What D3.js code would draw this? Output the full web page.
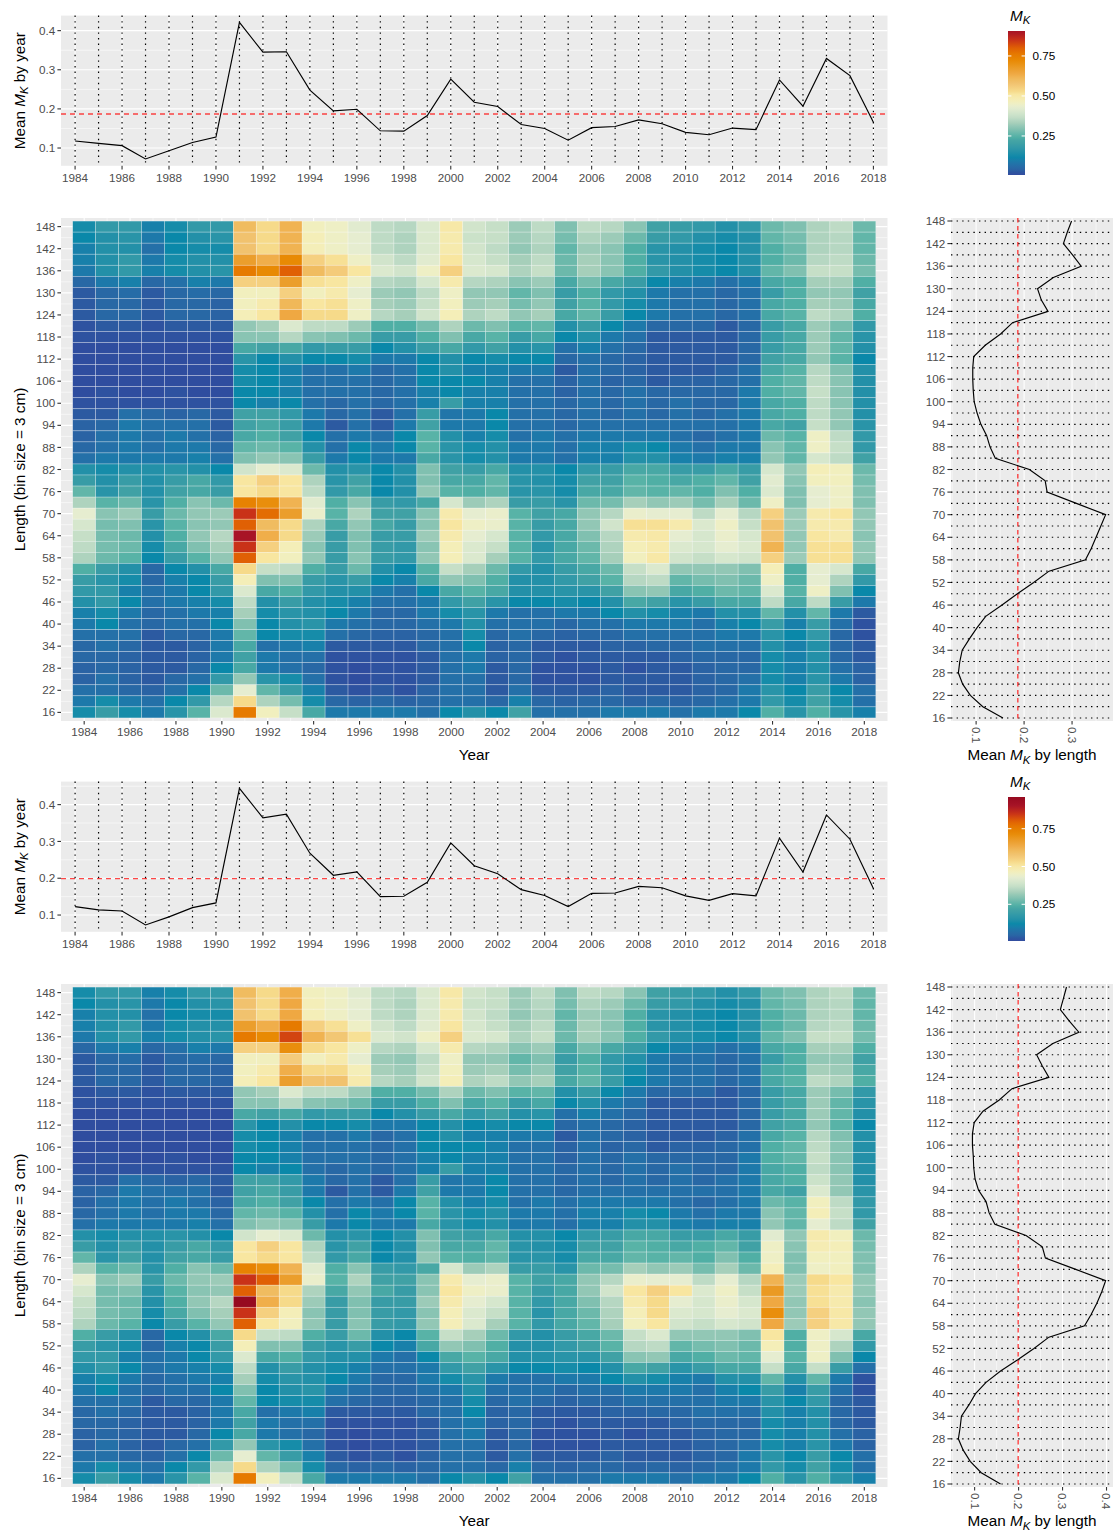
<!DOCTYPE html>
<html>
<head>
<meta charset="utf-8">
<script src="https://cdn.jsdelivr.net/npm/d3@7"></script>
<style>
  body { margin: 0; background: #fff; }
  svg text { font-family: "Liberation Sans", Arial, Helvetica, sans-serif; }
</style>
</head>
<body>
<svg id="chart" width="1113" height="1532"></svg>
<script>
// ---- data ----
const years = [1984,1985,1986,1987,1988,1989,1990,1991,1992,1993,1994,1995,1996,1997,1998,1999,2000,
  2001,2002,2003,2004,2005,2006,2007,2008,2009,2010,2011,2012,2013,2014,2015,2016,2017,2018];
const yearTicks = [1984,1986,1988,1990,1992,1994,1996,1998,2000,2002,2004,2006,2008,2010,2012,2014,2016,2018];
// length bins (cm), top row first
const lengths = [148,145,142,139,136,133,130,127,124,121,118,115,112,109,106,103,100,97,94,91,88,85,82,
  79,76,73,70,67,64,61,58,55,52,49,46,43,40,37,34,31,28,25,22,19,16];
const lengthTicks = [148,142,136,130,124,118,112,106,100,94,88,82,76,70,64,58,52,46,40,34,28,22,16];
const legendTicks = [0.25, 0.50, 0.75];

// upper figure
const yearMean1 = [0.118,0.112,0.106,0.072,0.093,0.114,0.128,0.421,0.345,0.346,0.248,0.195,0.199,0.144,0.143,0.183,0.276,
  0.217,0.206,0.160,0.150,0.120,0.152,0.155,0.172,0.162,0.140,0.134,0.151,0.147,0.274,0.207,0.329,0.285,0.166];
const lengthMean1 = [0.299,0.290,0.282,0.301,0.319,0.261,0.228,0.236,0.250,0.176,0.151,0.119,0.095,0.093,0.093,0.094,0.096,
  0.102,0.110,0.122,0.129,0.140,0.211,0.244,0.248,0.309,0.370,0.360,0.350,0.340,0.328,0.252,0.220,0.186,0.154,0.120,0.102,
  0.086,0.071,0.066,0.063,0.072,0.088,0.114,0.156];
const overallMean1 = 0.187;
const legendRange1 = [0.006, 0.906];
// M_K x 100, one row per length bin (148 -> 16), one column per year
const heat1 = [
  [13,18,18,10,13,18,18,60,53,62,46,45,42,36,35,41,50,39,37,32,36,29,36,35,30,21,19,18,15,18,27,29,34,36,27],
  [12,15,16,9,12,15,16,58,53,62,47,45,43,36,34,41,49,38,37,32,35,28,34,32,27,19,18,15,13,15,26,28,34,35,26],
  [10,15,15,7,12,13,13,58,53,62,47,45,43,36,34,41,49,39,36,31,34,26,32,30,24,16,15,13,12,15,24,27,34,35,26],
  [10,15,18,9,13,15,15,67,63,72,55,52,45,39,36,42,51,40,37,33,36,27,33,30,24,16,15,13,12,15,24,27,35,36,27],
  [9,15,18,10,13,15,16,76,72,80,60,56,51,41,39,45,55,41,40,34,37,27,33,30,24,18,15,13,12,15,26,29,37,37,28],
  [5,9,10,5,7,10,9,55,55,67,52,51,45,35,34,40,49,35,34,30,32,23,28,23,19,12,10,9,7,9,23,24,33,33,24],
  [3,5,6,3,5,6,5,46,46,55,46,49,43,32,31,36,45,31,31,26,29,19,24,18,15,9,7,7,5,7,19,24,31,31,21],
  [3,5,5,3,5,5,4,46,49,61,51,52,45,33,32,37,46,32,33,28,31,21,25,18,13,9,7,7,5,7,23,24,33,32,23],
  [3,5,5,3,5,5,4,47,51,64,53,53,45,35,33,39,47,34,36,31,33,23,26,19,12,9,7,7,5,7,23,25,36,34,24],
  [2,3,3,2,3,3,3,31,33,41,36,36,32,24,24,28,34,27,29,25,26,15,19,12,9,5,5,5,3,5,19,23,32,28,18],
  [2,2,2,2,2,2,2,30,30,35,30,29,27,19,19,24,29,23,25,19,23,12,15,9,7,3,3,3,3,5,19,23,32,26,16],
  [1,1,1,1,1,1,1,23,21,23,18,19,19,12,15,19,23,18,21,15,16,7,10,7,5,3,3,3,3,5,19,23,32,26,15],
  [1,1,1,1,1,1,1,16,12,15,12,12,13,9,9,12,15,12,13,12,12,5,7,5,4,3,3,3,3,5,21,23,31,25,12],
  [1,1,1,1,1,1,1,13,12,10,7,7,9,5,7,12,15,10,10,9,9,3,7,5,4,3,3,3,4,7,23,25,35,29,15],
  [1,1,1,1,1,1,1,13,12,10,7,7,7,5,7,12,12,12,10,7,7,4,7,4,5,3,4,4,5,7,24,26,36,30,15],
  [1,2,1,1,2,1,1,12,12,10,7,7,7,5,7,10,12,10,10,7,7,4,7,5,7,5,5,5,5,9,24,26,37,30,15],
  [2,2,2,2,2,2,2,12,10,12,7,5,7,5,7,10,19,10,10,7,7,5,7,5,7,5,7,5,5,9,23,24,36,30,15],
  [3,3,7,5,4,5,3,21,21,18,9,5,7,3,7,19,8,9,12,7,7,5,7,5,7,5,7,5,7,9,23,24,36,31,15],
  [4,5,9,7,7,7,3,21,23,19,9,3,7,3,9,21,9,9,12,7,7,5,7,7,7,7,7,7,7,9,23,21,37,31,16],
  [4,7,9,7,9,7,4,23,24,21,12,7,9,7,12,25,15,10,13,7,9,7,9,9,9,9,7,5,7,9,27,25,45,36,18],
  [5,7,9,7,9,9,5,26,27,25,15,7,12,9,12,25,16,13,15,9,9,7,10,10,13,12,9,7,9,9,30,26,45,37,18],
  [7,9,9,9,9,10,7,29,31,30,19,9,12,9,9,23,16,13,15,9,9,7,10,10,15,15,10,9,10,10,31,26,40,36,21],
  [15,13,15,15,16,15,12,39,43,41,27,15,16,12,15,29,21,19,23,15,15,12,18,19,23,23,19,19,23,19,40,31,47,46,27],
  [19,15,19,15,19,23,18,51,55,51,34,16,21,12,15,29,23,23,26,16,15,13,21,21,25,24,23,24,26,21,42,30,46,46,28],
  [26,16,21,15,21,23,19,51,53,51,36,18,23,12,15,31,25,24,26,16,16,13,23,23,26,25,26,24,29,24,41,29,43,45,29],
  [34,25,27,16,24,30,27,74,71,62,42,24,30,19,18,23,40,32,34,19,19,16,27,28,33,31,32,28,33,27,45,29,43,45,29],
  [43,30,32,19,27,31,32,85,78,67,44,25,34,21,21,30,49,43,44,25,21,23,31,35,44,43,43,36,43,35,55,32,49,51,31],
  [40,28,29,16,25,30,31,80,60,53,34,23,31,23,19,30,51,45,44,25,19,23,31,39,52,52,49,41,45,37,58,32,49,49,31],
  [37,28,27,15,24,31,35,90,63,53,32,19,29,19,19,32,49,43,40,25,18,23,29,35,49,50,43,40,44,40,58,31,51,49,30],
  [36,28,27,13,23,29,33,85,55,47,30,19,29,19,18,30,47,41,37,25,16,23,27,34,47,49,41,40,43,41,62,31,52,52,31],
  [34,27,25,12,19,25,31,80,51,46,31,19,30,19,18,31,47,41,33,25,18,23,26,33,46,50,39,37,40,39,55,32,52,52,31],
  [24,19,15,5,12,15,23,53,37,36,24,19,27,15,12,25,37,33,27,18,15,19,23,27,37,41,31,31,31,29,47,24,43,40,23],
  [19,16,13,5,10,12,19,47,29,29,19,16,19,12,10,23,31,29,24,15,15,18,21,25,35,36,26,28,29,27,45,24,43,34,18],
  [18,18,10,7,9,12,18,41,23,24,18,15,15,9,7,12,23,25,23,15,15,16,16,21,30,31,23,24,27,26,41,25,45,29,12],
  [15,18,12,7,9,10,13,36,15,19,15,13,10,7,7,9,18,21,16,12,12,13,12,15,23,21,16,19,23,23,36,23,36,19,9],
  [10,13,9,5,7,9,10,33,13,16,15,12,9,5,5,9,13,16,9,7,7,9,9,12,15,13,10,9,15,15,26,15,26,9,3],
  [9,12,7,5,7,7,12,29,12,15,16,9,7,5,5,7,9,15,7,7,7,5,7,7,9,9,9,7,10,12,19,10,19,7,2],
  [7,7,7,3,5,5,9,26,12,13,13,7,5,4,4,5,7,13,5,7,5,4,5,5,7,7,7,7,9,9,16,12,18,5,2],
  [5,7,5,3,3,4,9,23,7,9,10,3,3,3,3,5,7,12,4,5,3,3,3,4,4,5,5,7,7,7,15,10,15,5,3],
  [5,5,4,3,3,4,9,21,9,7,7,2,2,2,2,3,7,9,4,5,3,2,3,3,3,3,4,5,5,5,13,10,15,5,3],
  [4,5,4,3,3,5,12,23,9,7,5,2,1,2,2,3,7,9,3,5,2,2,2,3,2,3,3,4,5,5,13,10,15,7,4],
  [4,7,4,3,5,7,18,31,16,13,7,2,1,2,2,3,7,7,3,5,2,2,2,3,3,3,3,4,5,7,13,10,16,9,4],
  [7,7,5,4,7,12,27,43,26,19,10,3,2,3,2,4,7,7,3,7,3,3,3,4,3,3,3,4,5,9,16,12,19,12,7],
  [9,13,9,7,12,18,35,53,34,28,13,5,4,5,4,5,7,7,5,10,5,4,5,5,4,5,4,5,7,9,18,13,21,13,7],
  [13,19,13,9,16,25,41,76,46,37,23,9,9,9,9,7,12,15,12,21,7,7,7,9,9,9,7,9,9,12,24,16,24,16,10]
];

// lower figure
const yearMean2 = [0.123,0.114,0.111,0.073,0.095,0.120,0.133,0.444,0.364,0.374,0.268,0.208,0.217,0.150,0.151,0.189,0.296,
  0.234,0.212,0.169,0.153,0.123,0.159,0.160,0.178,0.174,0.152,0.140,0.158,0.152,0.309,0.217,0.372,0.306,0.172];
const lengthMean2 = [0.309,0.302,0.295,0.315,0.337,0.278,0.241,0.254,0.269,0.185,0.156,0.119,0.099,0.095,0.095,0.097,0.098,
  0.101,0.109,0.126,0.133,0.146,0.217,0.254,0.261,0.330,0.398,0.389,0.378,0.365,0.350,0.269,0.235,0.198,0.159,0.126,0.102,
  0.087,0.070,0.067,0.063,0.074,0.090,0.115,0.159];
const overallMean2 = 0.199;
const legendRange2 = [0.007, 0.960];
const heat2 = [
  [13,18,18,10,13,18,18,60,53,63,46,45,42,36,35,41,50,39,37,32,36,29,36,35,30,21,19,18,15,18,27,29,34,36,27],
  [12,15,16,9,12,15,16,58,53,64,47,45,43,36,34,41,49,38,37,32,35,28,34,32,27,19,18,15,13,15,26,28,34,35,26],
  [10,15,15,7,12,13,13,58,53,64,47,45,43,36,34,41,49,39,36,31,34,26,32,30,24,16,15,13,12,15,24,27,34,35,26],
  [10,15,18,9,13,15,15,67,63,76,55,52,45,39,36,42,51,40,37,33,36,27,33,30,24,16,15,13,12,15,24,27,35,36,27],
  [9,15,18,10,13,15,16,76,72,83,62,57,52,41,39,45,55,41,40,34,37,27,33,30,24,18,15,13,12,15,26,29,37,37,28],
  [5,9,10,5,7,10,9,55,55,71,53,51,45,35,34,40,49,35,34,30,32,23,28,23,19,12,10,9,7,9,23,24,33,33,24],
  [3,5,6,3,5,6,5,46,46,56,46,49,43,32,31,36,45,31,31,26,29,19,24,18,15,9,7,7,5,7,19,24,31,31,21],
  [3,5,5,3,5,5,4,46,49,63,53,53,47,33,32,37,46,32,33,28,31,21,25,18,13,9,7,7,5,7,23,24,33,32,23],
  [3,5,5,3,5,5,4,47,51,67,58,58,49,35,33,39,47,34,36,31,33,23,26,19,12,9,7,7,5,7,23,25,36,34,24],
  [2,3,3,2,3,3,3,31,33,41,36,36,32,24,24,28,34,27,29,25,26,15,19,12,9,5,5,5,3,5,19,23,32,28,18],
  [2,2,2,2,2,2,2,30,30,35,30,29,27,19,19,24,29,23,25,19,23,12,15,9,7,3,3,3,3,5,19,23,32,26,16],
  [1,1,1,1,1,1,1,23,21,23,18,19,19,12,15,19,23,18,21,15,16,7,10,7,5,3,3,3,3,5,19,23,32,26,15],
  [1,1,1,1,1,1,1,16,12,15,12,12,13,9,9,12,15,12,13,12,12,5,7,5,4,3,3,3,3,5,21,23,31,25,12],
  [1,1,1,1,1,1,1,13,12,10,7,7,9,5,7,12,15,10,10,9,9,3,7,5,4,3,3,3,4,7,23,25,35,29,15],
  [1,1,1,1,1,1,1,13,12,10,7,7,7,5,7,12,12,12,10,7,7,4,7,4,5,3,4,4,5,7,24,26,36,30,15],
  [1,2,1,1,2,1,1,12,12,10,7,7,7,5,7,10,12,10,10,7,7,4,7,5,7,5,5,5,5,9,24,26,37,30,15],
  [2,2,2,2,2,2,2,12,10,12,7,5,7,5,7,10,19,10,10,7,7,5,7,5,7,5,7,5,5,9,23,24,36,30,15],
  [3,3,7,5,4,5,3,21,21,18,9,5,7,3,7,19,8,9,12,7,7,5,7,5,7,5,7,5,7,9,23,24,38,31,15],
  [4,5,9,7,7,7,3,21,23,19,9,3,7,3,9,21,9,9,12,7,7,5,7,7,7,7,7,7,7,9,23,21,41,31,16],
  [4,7,9,7,9,7,4,23,24,21,12,7,9,7,12,25,15,10,13,7,9,7,9,9,9,9,7,5,7,9,27,25,46,36,18],
  [5,7,9,7,9,9,5,26,27,25,15,7,12,9,12,25,16,13,15,9,9,7,10,10,13,12,9,7,9,9,30,26,47,37,18],
  [7,9,9,9,9,10,7,29,31,30,19,9,12,9,9,23,16,13,15,9,9,7,10,10,15,15,10,9,10,10,31,26,43,36,21],
  [15,13,15,15,16,15,12,39,43,41,27,15,16,12,15,29,21,19,23,15,15,12,18,19,23,23,19,19,23,19,42,31,49,46,27],
  [19,15,19,15,19,23,18,51,55,51,34,16,21,12,15,29,23,23,26,16,15,13,21,21,25,24,23,24,26,21,45,30,48,47,28],
  [26,16,21,15,21,23,19,51,53,51,36,18,23,12,15,31,25,24,26,16,16,13,23,23,26,25,26,24,29,24,45,29,46,46,29],
  [34,25,27,16,24,30,27,74,71,62,42,24,30,19,18,23,40,32,34,19,19,16,27,28,33,31,32,28,33,27,47,29,45,46,29],
  [43,30,32,19,27,31,32,85,80,67,44,25,34,21,21,30,49,43,44,25,21,23,31,35,44,43,43,36,43,35,62,32,53,51,31],
  [40,28,29,16,25,30,31,80,60,53,34,23,31,23,19,30,51,45,44,25,19,23,31,39,51,55,51,41,45,37,68,32,52,49,31],
  [37,28,27,15,24,31,35,96,63,53,32,19,29,19,19,32,49,43,40,25,18,23,29,35,49,53,43,40,44,40,64,31,52,49,30],
  [36,28,27,13,23,29,33,85,55,47,30,19,29,19,18,30,47,41,37,25,16,23,27,34,47,53,41,40,43,41,71,31,55,50,31],
  [34,27,25,12,19,25,31,80,51,46,31,19,30,19,18,31,47,41,33,25,18,23,26,33,46,51,39,37,40,39,64,32,55,50,31],
  [24,19,15,5,12,15,23,53,37,36,24,19,27,15,12,25,37,33,27,18,15,19,23,27,37,41,31,31,31,29,51,24,45,40,23],
  [19,16,13,5,10,12,19,47,29,29,19,16,19,12,10,23,31,29,24,15,15,18,21,25,35,36,26,28,29,27,47,24,45,34,18],
  [18,18,10,7,9,12,18,41,23,24,18,15,15,9,7,12,23,25,23,15,15,16,16,21,30,31,23,24,27,26,43,25,45,29,12],
  [15,18,12,7,9,10,13,36,15,19,15,13,10,7,7,9,18,21,16,12,12,13,12,15,23,21,16,19,23,23,37,23,37,19,7],
  [10,13,9,5,7,9,10,33,13,16,15,12,9,5,5,9,13,16,9,7,7,9,9,12,15,13,10,9,15,15,26,15,26,9,2],
  [9,12,7,5,7,7,12,29,12,15,16,9,7,5,5,7,9,15,7,7,7,5,7,7,9,9,9,7,10,12,19,10,19,7,2],
  [7,7,7,3,5,5,9,26,12,13,13,7,5,4,4,5,7,13,5,7,5,4,5,5,7,7,7,7,9,9,16,12,18,5,3],
  [5,7,5,3,3,4,9,23,7,9,10,3,3,3,3,5,7,12,4,5,3,3,3,4,4,5,5,7,7,7,15,10,15,5,3],
  [5,5,4,3,3,4,9,21,9,7,7,2,2,2,2,3,7,9,4,5,3,2,3,3,3,3,4,5,5,5,13,10,15,5,3],
  [4,5,4,3,3,5,12,23,9,7,5,2,1,2,2,3,7,9,3,5,2,2,2,3,2,3,3,4,5,5,13,10,15,7,4],
  [4,7,4,3,5,7,18,31,16,13,7,2,1,2,2,3,7,7,3,5,2,2,2,3,3,3,3,4,5,7,13,10,16,9,4],
  [7,7,5,4,7,12,27,43,26,19,10,3,2,3,2,4,7,7,3,7,3,3,3,4,3,3,3,4,5,9,16,12,19,12,7],
  [9,13,9,7,12,18,35,53,34,28,13,5,4,5,4,5,7,7,5,10,5,4,5,5,4,5,4,5,7,9,18,13,21,13,7],
  [13,19,13,9,16,25,41,76,46,37,23,9,9,9,9,7,12,15,12,21,7,7,7,9,9,9,7,9,9,12,24,16,24,16,10]
];

// ---- colour scale (value -> colour) ----
const stopVals = [0,0.01,0.02,0.03,0.04,0.05,0.07,0.09,0.10,0.12,0.13,0.15,0.16,0.18,0.19,0.21,0.23,0.24,0.25,0.27,0.29,
  0.31,0.33,0.35,0.37,0.40,0.43,0.45,0.47,0.49,0.51,0.53,0.55,0.58,0.60,0.62,0.64,0.67,0.72,0.76,0.80,0.85,0.90,0.96];
const stopCols = ["#3A4A9E","#2F4D9F","#2E52A0","#2C5AA1","#2A63A4","#2868A5","#2470A8","#1D79AA","#1880AA","#0A88A9",
  "#168CA9","#2390A8","#2994A8","#3299A8","#389CA6","#40A1A5","#48A8A5","#50AFA5","#58B3A7","#6CB9AB","#80C0B0",
  "#92C7B5","#A6CFBA","#B6D7C2","#C6DFC7","#D6E7CD","#E6EDD0","#EEEFC5","#F4EEB8","#F6EAAD","#F8E6A0","#F6DA8A",
  "#F5D080","#F1C26E","#F0BC60","#F0B352","#EFA842","#EB9E2C","#E88A04","#E67A00","#E06004","#C93218","#A81426","#960A20"];
const fill = d3.scaleLinear().domain(stopVals).range(stopCols).clamp(true);

// ---- layout ----
const svg = d3.select("#chart");
const L = 61, R = 887.5;            // left column panels
const SL = 951, SR = 1113;          // side panel
const tickCol = "#333333", labCol = "#4D4D4D", bg = "#EBEBEB";
const titleSize = 15.3;
const expand = (ext, f) => { const r = ext[1] - ext[0]; return [ext[0] - r * f, ext[1] + r * f]; };

function mkLabel(sel, parts, size) {
  parts.forEach(p => {
    const t = sel.append("tspan").text(p.t);
    if (p.it) t.attr("font-style", "italic");
    if (p.sub) t.attr("font-size", size * 0.74).attr("dy", size * 0.25);
    if (p.up) t.attr("dy", -size * 0.25);
  });
}

function drawBlock(id, dy, yearMean, lengthMean, overall, heat, legendRange) {
  const g = svg.append("g").attr("transform", `translate(0,${dy})`);

  // ===== top: mean by year =====
  const tT = 15.6, tB = 165.8;
  const xT = d3.scaleLinear().domain([years[0] - 0.6, years[years.length - 1] + 0.6]).range([L, R]);
  const yT = d3.scaleLinear().domain(expand(d3.extent(yearMean), 0.05)).range([tB, tT]);
  const top = g.append("g");
  top.append("rect").attr("x", L).attr("y", tT).attr("width", R - L).attr("height", tB - tT).attr("fill", bg);
  const yMaj = yT.ticks(5);
  const yMin = yMaj.map(v => v - 0.05).concat([yMaj[yMaj.length - 1] + 0.05]).filter(v => v > yT.domain()[0] && v < yT.domain()[1]);
  top.selectAll(".hmin").data(yMin).join("line").attr("x1", L).attr("x2", R)
    .attr("y1", d => yT(d)).attr("y2", d => yT(d)).attr("stroke", "#fff").attr("stroke-width", 0.55);
  top.selectAll(".hmaj").data(yMaj).join("line").attr("x1", L).attr("x2", R)
    .attr("y1", d => yT(d)).attr("y2", d => yT(d)).attr("stroke", "#fff").attr("stroke-width", 1.1);
  top.selectAll(".vmaj").data(yearTicks).join("line").attr("y1", tT).attr("y2", tB)
    .attr("x1", d => xT(d)).attr("x2", d => xT(d)).attr("stroke", "#fff").attr("stroke-width", 1.1);
  top.selectAll(".vdot").data(years).join("line").attr("y1", tT).attr("y2", tB)
    .attr("x1", d => xT(d)).attr("x2", d => xT(d)).attr("stroke", "#000").attr("stroke-width", 1.2)
    .attr("stroke-dasharray", "1.4,4.2");
  top.append("line").attr("x1", L).attr("x2", R).attr("y1", yT(overall)).attr("y2", yT(overall))
    .attr("stroke", "red").attr("stroke-opacity", 0.72).attr("stroke-width", 1.4).attr("stroke-dasharray", "5,4");
  top.append("path").datum(yearMean.map((v, i) => [years[i], v]))
    .attr("d", d3.line().x(d => xT(d[0])).y(d => yT(d[1])))
    .attr("fill", "none").attr("stroke", "#000").attr("stroke-width", 1.15);
  // axes
  top.selectAll(".xt").data(yearTicks).join("line").attr("x1", d => xT(d)).attr("x2", d => xT(d))
    .attr("y1", tB).attr("y2", tB + 3.6).attr("stroke", tickCol).attr("stroke-width", 1.1);
  top.selectAll(".xl").data(yearTicks).join("text").attr("x", d => xT(d)).attr("y", tB + 16.4)
    .attr("text-anchor", "middle").attr("font-size", 11.7).attr("fill", labCol).text(d => d);
  top.selectAll(".yt").data(yMaj).join("line").attr("x1", L - 3.6).attr("x2", L)
    .attr("y1", d => yT(d)).attr("y2", d => yT(d)).attr("stroke", tickCol).attr("stroke-width", 1.1);
  top.selectAll(".yl").data(yMaj).join("text").attr("x", L - 5.8).attr("y", d => yT(d)).attr("dy", "0.35em")
    .attr("text-anchor", "end").attr("font-size", 11.7).attr("fill", labCol).text(d => d3.format(".1f")(d));
  const yTitle = top.append("text").attr("transform", `translate(24.5,${(tT + tB) / 2}) rotate(-90)`)
    .attr("text-anchor", "middle").attr("font-size", titleSize).attr("fill", "#000");
  mkLabel(yTitle, [{t: "Mean "}, {t: "M", it: true}, {t: "K", it: true, sub: true}, {t: " by year", up: true}], titleSize);

  // ===== legend =====
  const lgX = 1008, lgW = 17, lgT = 31, lgB = 175;
  const yL = d3.scaleLinear().domain(legendRange).range([lgB, lgT]);
  const grad = svg.append("defs").append("linearGradient").attr("id", "grad" + id)
    .attr("x1", 0).attr("x2", 0).attr("y1", 1).attr("y2", 0);
  d3.range(0, 1.0001, 0.02).forEach(f => {
    grad.append("stop").attr("offset", f).attr("stop-color", fill(legendRange[0] + f * (legendRange[1] - legendRange[0])));
  });
  g.append("rect").attr("x", lgX).attr("y", lgT).attr("width", lgW).attr("height", lgB - lgT).attr("fill", `url(#grad${id})`);
  legendTicks.forEach(v => {
    g.append("line").attr("x1", lgX).attr("x2", lgX + 3.4).attr("y1", yL(v)).attr("y2", yL(v)).attr("stroke", "#fff").attr("stroke-width", 1);
    g.append("line").attr("x1", lgX + lgW - 3.4).attr("x2", lgX + lgW).attr("y1", yL(v)).attr("y2", yL(v)).attr("stroke", "#fff").attr("stroke-width", 1);
    g.append("text").attr("x", lgX + lgW + 7.5).attr("y", yL(v)).attr("dy", "0.35em").attr("font-size", 11.7)
      .attr("fill", "#000").text(d3.format(".2f")(v));
  });
  const lgTitle = g.append("text").attr("x", lgX + 2).attr("y", 20.5).attr("font-size", titleSize).attr("fill", "#000");
  mkLabel(lgTitle, [{t: "M", it: true}, {t: "K", it: true, sub: true}], titleSize);

  // ===== heatmap =====
  const hT = 218, hB = 721;
  const xH = d3.scaleLinear().domain([years[0] - 0.5 - 0.51, years[years.length - 1] + 0.5 + 0.51]).range([L, R]);
  const yH = d3.scaleLinear().domain([13.66, 150.34]).range([hB, hT]);
  const hm = g.append("g");
  hm.append("rect").attr("x", L).attr("y", hT).attr("width", R - L).attr("height", hB - hT).attr("fill", bg);
  const xMinor = years.filter(y => yearTicks.indexOf(y) < 0);
  const lMinor = lengths.filter(l => lengthTicks.indexOf(l) < 0);
  hm.selectAll(".gx").data(xMinor).join("line").attr("x1", d => xH(d)).attr("x2", d => xH(d)).attr("y1", hT).attr("y2", hB)
    .attr("stroke", "#fff").attr("stroke-width", 0.55);
  hm.selectAll(".gy").data(lMinor).join("line").attr("y1", d => yH(d)).attr("y2", d => yH(d)).attr("x1", L).attr("x2", R)
    .attr("stroke", "#fff").attr("stroke-width", 0.55);
  hm.selectAll(".gX").data(yearTicks).join("line").attr("x1", d => xH(d)).attr("x2", d => xH(d)).attr("y1", hT).attr("y2", hB)
    .attr("stroke", "#fff").attr("stroke-width", 1.1);
  hm.selectAll(".gY").data(lengthTicks).join("line").attr("y1", d => yH(d)).attr("y2", d => yH(d)).attr("x1", L).attr("x2", R)
    .attr("stroke", "#fff").attr("stroke-width", 1.1);
  const cells = [];
  heat.forEach((row, r) => row.forEach((v, c) => cells.push({yr: years[c], len: lengths[r], v: v / 100})));
  hm.selectAll(".cell").data(cells).join("rect")
    .attr("x", d => xH(d.yr - 0.5)).attr("width", d => xH(d.yr + 0.5) - xH(d.yr - 0.5))
    .attr("y", d => yH(d.len + 1.5)).attr("height", d => yH(d.len - 1.5) - yH(d.len + 1.5))
    .attr("fill", d => fill(d.v)).attr("stroke", "#fff").attr("stroke-opacity", 0.45).attr("stroke-width", 0.6);
  hm.selectAll(".xt").data(yearTicks).join("line").attr("x1", d => xH(d)).attr("x2", d => xH(d))
    .attr("y1", hB).attr("y2", hB + 3.6).attr("stroke", tickCol).attr("stroke-width", 1.1);
  hm.selectAll(".xl").data(yearTicks).join("text").attr("x", d => xH(d)).attr("y", hB + 15)
    .attr("text-anchor", "middle").attr("font-size", 11.7).attr("fill", labCol).text(d => d);
  hm.selectAll(".yt").data(lengthTicks).join("line").attr("x1", L - 3.6).attr("x2", L)
    .attr("y1", d => yH(d)).attr("y2", d => yH(d)).attr("stroke", tickCol).attr("stroke-width", 1.1);
  hm.selectAll(".yl").data(lengthTicks).join("text").attr("x", L - 5.8).attr("y", d => yH(d)).attr("dy", "0.35em")
    .attr("text-anchor", "end").attr("font-size", 11.7).attr("fill", labCol).text(d => d);
  hm.append("text").attr("x", (L + R) / 2).attr("y", 760).attr("text-anchor", "middle")
    .attr("font-size", titleSize).attr("fill", "#000").text("Year");
  hm.append("text").attr("transform", `translate(25,${(hT + hB) / 2}) rotate(-90)`).attr("text-anchor", "middle")
    .attr("font-size", titleSize).attr("fill", "#000").text("Length (bin size = 3 cm)");

  // ===== side: mean by length =====
  const xS = d3.scaleLinear().domain(expand(d3.extent(lengthMean), 0.05)).range([SL, SR]);
  const yS = d3.scaleLinear().domain([16, 148]).range([718, 221]);
  const sd = g.append("g");
  sd.append("rect").attr("x", SL).attr("y", hT).attr("width", SR - SL).attr("height", hB - hT).attr("fill", bg);
  const sMaj = xS.ticks(4);
  const sMin = sMaj.map(v => v - 0.05).concat([sMaj[sMaj.length - 1] + 0.05]).filter(v => v > xS.domain()[0] && v < xS.domain()[1]);
  sd.selectAll(".smin").data(sMin).join("line").attr("x1", d => xS(d)).attr("x2", d => xS(d)).attr("y1", hT).attr("y2", hB)
    .attr("stroke", "#fff").attr("stroke-width", 0.55);
  sd.selectAll(".smaj").data(sMaj).join("line").attr("x1", d => xS(d)).attr("x2", d => xS(d)).attr("y1", hT).attr("y2", hB)
    .attr("stroke", "#fff").attr("stroke-width", 1.1);
  sd.selectAll(".sdot").data(lengths).join("line").attr("x1", SL).attr("x2", SR).attr("y1", d => yS(d)).attr("y2", d => yS(d))
    .attr("stroke", "#000").attr("stroke-width", 1.2).attr("stroke-dasharray", "1.4,4.2");
  sd.append("line").attr("x1", xS(overall)).attr("x2", xS(overall)).attr("y1", hT).attr("y2", hB)
    .attr("stroke", "red").attr("stroke-opacity", 0.85).attr("stroke-width", 1.2).attr("stroke-dasharray", "4.5,3.5");
  sd.append("path").datum(lengthMean.map((v, i) => [lengths[i], v]))
    .attr("d", d3.line().x(d => xS(d[1])).y(d => yS(d[0])))
    .attr("fill", "none").attr("stroke", "#000").attr("stroke-width", 1.15);
  sd.selectAll(".yt").data(lengthTicks).join("line").attr("x1", SL - 3.6).attr("x2", SL)
    .attr("y1", d => yS(d)).attr("y2", d => yS(d)).attr("stroke", tickCol).attr("stroke-width", 1.1);
  sd.selectAll(".yl").data(lengthTicks).join("text").attr("x", SL - 5.8).attr("y", d => yS(d)).attr("dy", "0.35em")
    .attr("text-anchor", "end").attr("font-size", 11.7).attr("fill", labCol).text(d => d);
  sd.selectAll(".xt").data(sMaj).join("line").attr("x1", d => xS(d)).attr("x2", d => xS(d))
    .attr("y1", hB).attr("y2", hB + 3.6).attr("stroke", tickCol).attr("stroke-width", 1.1);
  sd.selectAll(".xl").data(sMaj).join("text")
    .attr("transform", d => `translate(${xS(d)},${hB + 6}) rotate(90)`).attr("dy", "0.35em")
    .attr("text-anchor", "start").attr("font-size", 11.7).attr("fill", labCol).text(d => d3.format(".1f")(d));
  const sTitle = sd.append("text").attr("x", (SL + SR) / 2).attr("y", 760).attr("text-anchor", "middle")
    .attr("font-size", titleSize).attr("fill", "#000");
  mkLabel(sTitle, [{t: "Mean "}, {t: "M", it: true}, {t: "K", it: true, sub: true}, {t: " by length", up: true}], titleSize);
}

drawBlock(1, 0, yearMean1, lengthMean1, overallMean1, heat1, legendRange1);
drawBlock(2, 766, yearMean2, lengthMean2, overallMean2, heat2, legendRange2);
</script>
</body>
</html>
